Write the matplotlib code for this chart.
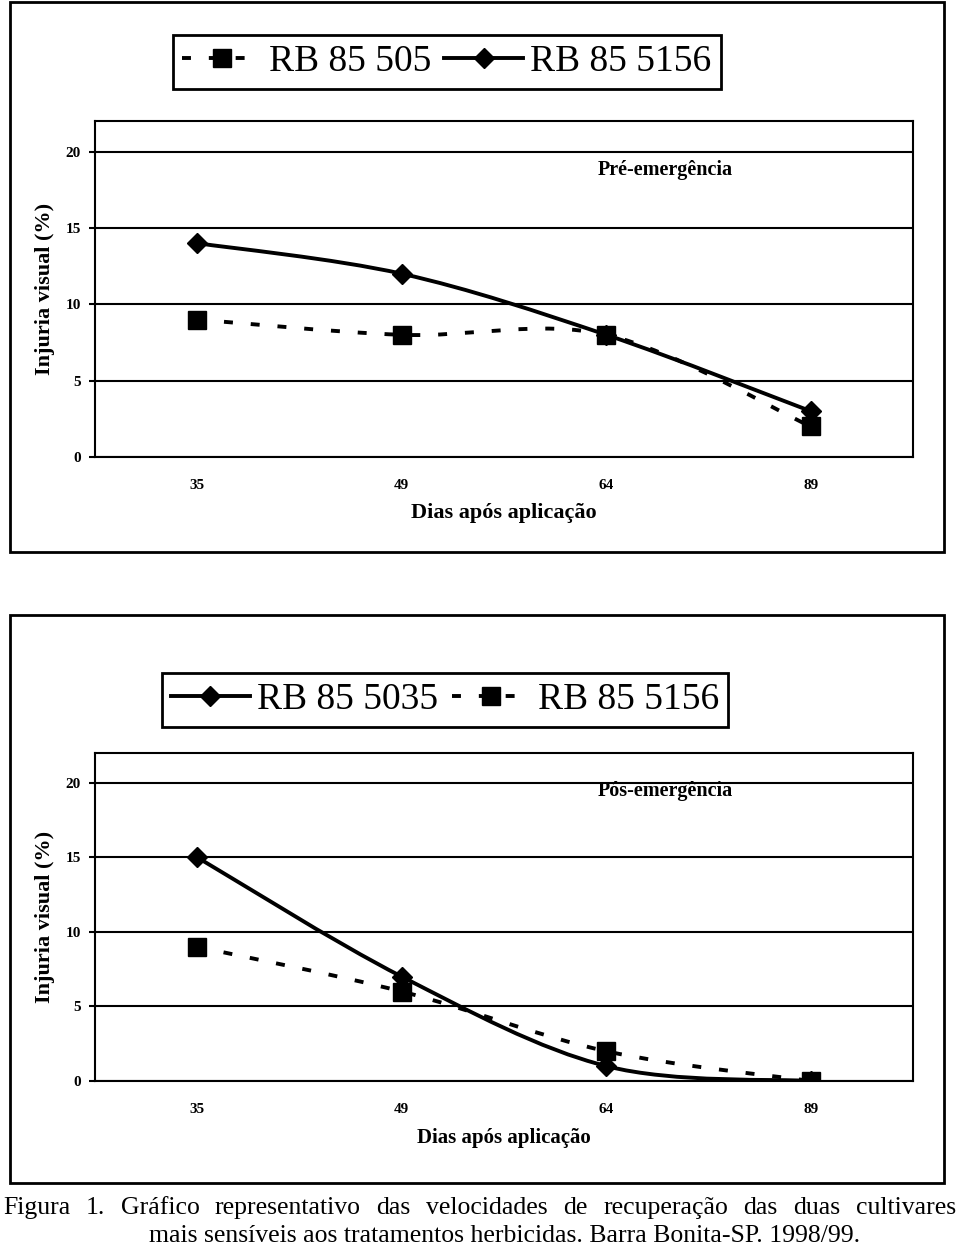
import matplotlib

matplotlib.use("Agg")
import matplotlib.pyplot as plt  # noqa: E402
import numpy as np  # noqa: E402
from matplotlib.lines import Line2D  # noqa: E402
from matplotlib.patches import PathPatch, Rectangle  # noqa: E402
from matplotlib.path import Path  # noqa: E402

# data
days = ["35", "49", "64", "89"]
pre_rb85505 = [9, 8, 8, 2]
pre_rb855156 = [14, 12, 8, 3]
pos_rb855035 = [15, 7, 1, 0]
pos_rb855156 = [9, 6, 2, 0]
y_ticks = [0, 5, 10, 15, 20]

caption_1 = "Figura 1. Gráfico representativo das velocidades de recuperação das duas cultivares"
caption_2 = "mais sensíveis aos tratamentos herbicidas. Barra Bonita-SP. 1998/99."

plt.rcParams.update({"font.family": "Liberation Serif"})

W, H = 960, 1250
SOLID = dict(color="black", lw=2.8, ls="-", marker="D", ms=10.5, mew=1)
DASHED = dict(color="black", lw=2.8, ls=(0, (2.3, 4.6)), marker="s", ms=13.5, mew=1)


def _rect(l, t, r, b):
    return [l / W, 1 - b / H, (r - l) / W, (b - t) / H]


def _smooth(xs, ys):
    # excel-like smoothed line: catmull-rom segments as cubic beziers
    pts = np.column_stack([xs, ys]).astype(float)
    n = len(pts)
    verts, codes = [pts[0]], [Path.MOVETO]
    for i in range(n - 1):
        p0, p1 = pts[max(i - 1, 0)], pts[i]
        p2, p3 = pts[i + 1], pts[min(i + 2, n - 1)]
        verts += [p1 + (p2 - p0) / 6, p2 - (p3 - p1) / 6, p2]
        codes += [Path.CURVE4] * 3
    return Path(verts, codes)


def _series(ax, ys, style):
    x = np.arange(len(days)) + 0.5
    ax.add_patch(
        PathPatch(_smooth(x, ys), facecolor="none", edgecolor=style["color"],
                  lw=style["lw"], linestyle=style["ls"], capstyle="butt", zorder=3)
    )
    ax.plot(x, ys, ls="none", marker=style["marker"], ms=style["ms"],
            color=style["color"], mew=style["mew"], zorder=4)


def _handle(style):
    return Line2D([], [], color=style["color"], lw=style["lw"], ls=style["ls"],
                  marker=style["marker"], ms=style["ms"], mew=style["mew"])


def _panel(ax, series, note, note_y, label_off, xlabel_fs):
    for ys, style in series:
        _series(ax, ys, style)
    ax.set_xlim(0, 4)
    ax.set_ylim(0, 22)
    ax.set_xticks(np.arange(len(days)) + 0.5, days)
    ax.set_yticks(y_ticks)
    ax.yaxis.grid(True, color="black", lw=1.5)
    ax.set_axisbelow(True)
    for s in ax.spines.values():
        s.set_linewidth(1.5)
    ax.tick_params(axis="x", length=0, pad=16, labelsize=11)
    ax.tick_params(axis="y", length=4, width=1.5, pad=6, labelsize=11)
    for t in ax.get_xticklabels() + ax.get_yticklabels():
        t.set_fontweight("bold")
    ax.set_ylabel("Injuria visual (%)", fontsize=16, fontweight="bold", va="center")
    ax.yaxis.set_label_coords(-50 / 818, 0.5)
    ax.set_xlabel("Dias após aplicação", fontsize=xlabel_fs, fontweight="bold", va="center")
    ax.xaxis.set_label_coords(0.5, label_off)
    ax.text(2.79, note_y, note, fontsize=14.5, fontweight="bold", ha="center", va="center")


fig = plt.figure(figsize=(W / 100, H / 100), dpi=100)

# outer frames of the two charts
for l, t, r, b in [(10, 2, 944, 552), (10, 615, 944, 1183)]:
    fig.add_artist(Rectangle((l / W, 1 - b / H), (r - l) / W, (b - t) / H,
                             transform=fig.transFigure, fill=False, lw=2, edgecolor="black"))

ax1 = fig.add_axes(_rect(95, 121, 913, 457))
_panel(ax1, [(pre_rb85505, DASHED), (pre_rb855156, SOLID)], "Pré-emergência", 18.76, -56 / 336, 16)

ax2 = fig.add_axes(_rect(95, 753, 913, 1081))
_panel(ax2, [(pos_rb855156, DASHED), (pos_rb855035, SOLID)], "Pós-emergência", 19.46, -57 / 328, 15)

leg_kw = dict(loc="center", ncol=2, frameon=True, fancybox=False, edgecolor="black",
              framealpha=1, fontsize=27, handlelength=2.1, handletextpad=0.2,
              columnspacing=0.35, borderpad=0.25, borderaxespad=0)
leg1 = fig.legend([_handle(DASHED), _handle(SOLID)], ["RB 85 505", "RB 85 5156"],
                  bbox_to_anchor=(447 / W, 1 - 62 / H), **leg_kw)
leg1.get_frame().set_linewidth(2)
leg2 = fig.legend([_handle(SOLID), _handle(DASHED)], ["RB 85 5035", "RB 85 5156"],
                  bbox_to_anchor=(445 / W, 1 - 700 / H), **leg_kw)
leg2.get_frame().set_linewidth(2)

# caption, first line justified across the page
words = [fig.text(0, 1 - 1208 / H, w, fontsize=18.5, va="center") for w in caption_1.split()]
fig.canvas.draw()
r = fig.canvas.get_renderer()
widths = [t.get_window_extent(r).width for t in words]
gap = (956 - 3 - sum(widths)) / (len(words) - 1)
x = 3.0
for t, w in zip(words, widths):
    t.set_x(x / W)
    x += w + gap
fig.text(505 / W, 1 - 1236 / H, caption_2, fontsize=18.5, ha="center", va="center")

fig.savefig("out.png", dpi=100, facecolor="white")
